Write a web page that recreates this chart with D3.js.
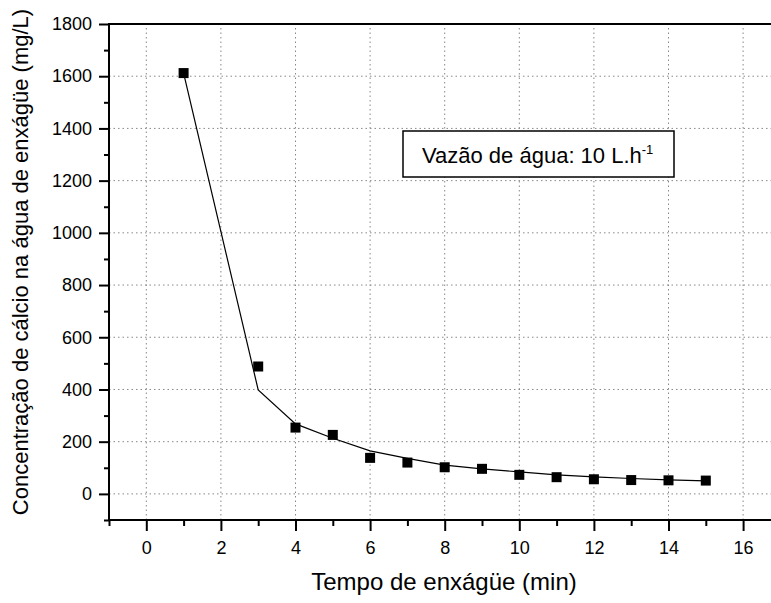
<!DOCTYPE html>
<meta charset="utf-8">
<style>
	body { margin: 0; background: #fff; }
	svg { display: block; font-family: "Liberation Sans", Arial, Helvetica, sans-serif; }
	.grid line { stroke: #888; stroke-width: 1; stroke-dasharray: 1.5,3; }
	.axis path { display: none; }
	.axis line { stroke: #000; stroke-width: 2; }
	.axis text { font-size: 18px; fill: #000; }
</style>
<body>
<script src="https://d3js.org/d3.v7.min.js"></script>
<script>

	// measured points
	var tempo = [1, 3, 4, 5, 6, 7, 8, 9, 10, 11, 12, 13, 14, 15];
	var calcio = [1612, 488, 254, 226, 138, 120, 102, 96, 73, 64, 56, 53, 52, 51];
	// fitted curve
	var ajuste = [1612, 398, 268, 213, 165, 136, 110, 96, 84, 73, 65, 59, 54, 50];

	var xMajor = [0, 2, 4, 6, 8, 10, 12, 14, 16];
	var xMinor = [-1, 1, 3, 5, 7, 9, 11, 13, 15];
	var yMajor = [0, 200, 400, 600, 800, 1000, 1200, 1400, 1600, 1800];
	var yMinor = [-100, 100, 300, 500, 700, 900, 1100, 1300, 1500, 1700];

	var width = 771, height = 603;
	var margin = {top: 24, left: 109, bottom: 83};

	var x = d3.scaleLinear().domain([-1, 17]).range([margin.left, margin.left + 18 * 37.3]);
	var y = d3.scaleLinear().domain([-100, 1800]).range([height - margin.bottom, margin.top]);

	var svg = d3.select("body").append("svg")
		.attr("width", width)
		.attr("height", height);

	// grid
	var grid = svg.append("g").attr("class", "grid");
	grid.selectAll(".gx").data(xMajor).enter().append("line")
		.attr("x1", function(d) { return x(d); })
		.attr("x2", function(d) { return x(d); })
		.attr("y1", y(-100)).attr("y2", y(1800));
	grid.selectAll(".gy").data(yMajor.filter(function(d) { return d < 1800; })).enter().append("line")
		.attr("y1", function(d) { return y(d); })
		.attr("y2", function(d) { return y(d); })
		.attr("x1", x(-1)).attr("x2", x(17));

	// axes
	svg.append("g").attr("class", "axis")
		.attr("transform", "translate(0," + y(-100) + ")")
		.call(d3.axisBottom(x).tickValues(xMajor).tickSize(11).tickPadding(10).tickFormat(d3.format("d")));
	svg.append("g").attr("class", "axis")
		.attr("transform", "translate(0," + y(-100) + ")")
		.call(d3.axisBottom(x).tickValues(xMinor).tickSize(6).tickFormat(""));

	svg.append("g").attr("class", "axis")
		.attr("transform", "translate(" + x(-1) + ",0)")
		.call(d3.axisLeft(y).tickValues(yMajor).tickSize(10).tickPadding(7).tickFormat(d3.format("d")));
	svg.append("g").attr("class", "axis")
		.attr("transform", "translate(" + x(-1) + ",0)")
		.call(d3.axisLeft(y).tickValues(yMinor).tickSize(5).tickFormat(""));

	// frame
	var frame = [[x(-1), y(-100)], [x(-1), y(1800)], [x(17), y(1800)], [x(17), y(-100)], [x(-1), y(-100)]];
	svg.append("path")
		.attr("d", d3.line()(frame))
		.attr("fill", "none")
		.attr("stroke", "#000")
		.attr("stroke-width", 2);

	// fitted line
	svg.append("path")
		.datum(tempo.map(function(t, i) { return [t, ajuste[i]]; }))
		.attr("fill", "none")
		.attr("stroke", "#000")
		.attr("stroke-width", 1.2)
		.attr("d", d3.line().x(function(d) { return x(d[0]); }).y(function(d) { return y(d[1]); }));

	// squares
	var s = 10;
	svg.selectAll(".pt").data(tempo).enter().append("rect")
		.attr("x", function(d) { return x(d) - s / 2; })
		.attr("y", function(d, i) { return y(calcio[i]) - s / 2; })
		.attr("width", s).attr("height", s)
		.attr("fill", "#000");

	// label box
	svg.append("rect")
		.attr("x", 403).attr("y", 131).attr("width", 271).attr("height", 46)
		.attr("fill", "#fff").attr("stroke", "#000").attr("stroke-width", 1.5);
	var lbl = svg.append("text")
		.attr("x", 422).attr("y", 163)
		.style("font-size", "22px");
	lbl.append("tspan").text("Vazão de água: 10 L.h");
	lbl.append("tspan").attr("dy", -9).style("font-size", "13px").text("-1");

	// axis titles
	svg.append("text")
		.attr("x", 444).attr("y", 590)
		.attr("text-anchor", "middle")
		.style("font-size", "24px")
		.text("Tempo de enxágüe (min)");

	svg.append("text")
		.attr("transform", "translate(28," + 262 + ") rotate(-90)")
		.attr("text-anchor", "middle")
		.style("font-size", "22px")
		.text("Concentração de cálcio na água de enxágüe (mg/L)");

</script>
